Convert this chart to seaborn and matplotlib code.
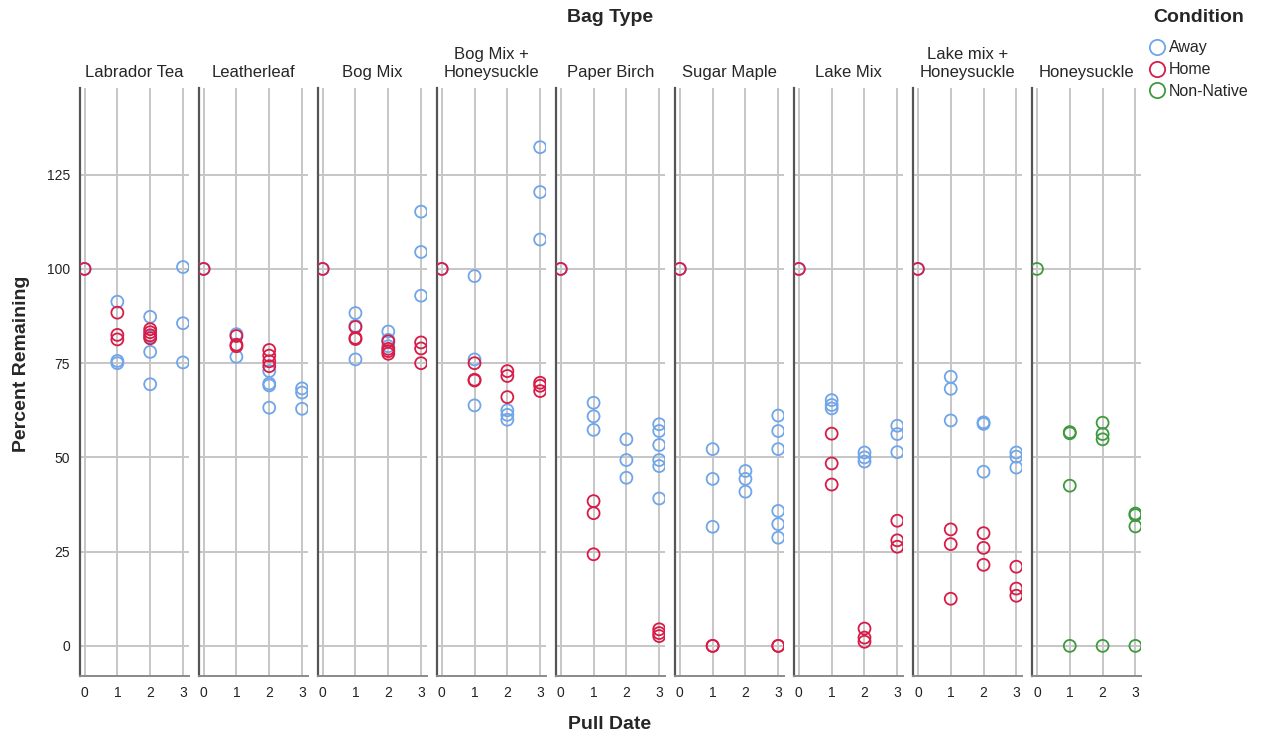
import matplotlib.pyplot as plt
import pandas as pd
import seaborn as sns
from matplotlib.lines import Line2D

BAGS = [
    "Labrador Tea", "Leatherleaf", "Bog Mix", "Bog Mix +\nHoneysuckle", "Paper Birch",
    "Sugar Maple", "Lake Mix", "Lake mix +\nHoneysuckle", "Honeysuckle",
]
CONDITIONS = ["Away", "Home", "Non-Native"]
PULL_DATES = [0, 1, 2, 3]
Y_TICKS = [0, 25, 50, 75, 100, 125]
COLORS = {"Away": "#6FA5EA", "Home": "#D81B47", "Non-Native": "#3D9A3D"}

# percent remaining per pull date (0..3)
labrador_tea_away = [[100], [91.3, 75.6, 75.0], [87.3, 82.0, 78.0, 69.4], [100.5, 85.6, 75.2]]
labrador_tea_home = [[100], [88.4, 82.5, 81.3], [84.0, 83.2, 82.4, 81.6], []]
leatherleaf_away = [[100], [82.7, 76.7], [72.9, 69.6, 69.1, 63.2], [68.3, 67.2, 62.9]]
leatherleaf_home = [[100], [82.2, 79.9, 79.5], [78.5, 77.0, 75.5, 74.2], []]
bog_mix_away = [[100], [88.3, 84.9, 76.0], [83.4, 81.2, 79.5], [115.2, 104.5, 92.9]]
bog_mix_home = [[100], [84.6, 81.7, 81.4], [80.8, 78.8, 78.2, 77.5], [80.5, 78.9, 75.0]]
bog_honey_away = [[100], [98.1, 76.0, 63.8], [62.5, 61.3, 60.0], [132.3, 120.4, 107.8]]
bog_honey_home = [[100], [75.0, 70.6, 70.4], [72.9, 71.6, 66.0], [69.8, 69.0, 67.6]]
paper_birch_away = [[100], [64.5, 60.9, 57.3], [54.8, 49.3, 44.6], [58.8, 57.0, 53.3, 49.3, 47.7, 39.1]]
paper_birch_home = [[100], [38.4, 35.2, 24.3], [], [4.4, 3.4, 2.6]]
sugar_maple_away = [[100], [52.2, 44.3, 31.6], [46.4, 44.3, 40.9], [61.1, 57.0, 52.2, 35.8, 32.3, 28.7]]
sugar_maple_home = [[100], [0, 0], [], [0, 0]]
lake_mix_away = [[100], [65.2, 63.9, 63.0], [51.3, 50.0, 48.9], [58.4, 56.2, 51.4]]
lake_mix_home = [[100], [56.3, 48.4, 42.8], [4.6, 2.2, 1.1], [33.2, 28.0, 26.3]]
lake_honey_away = [[100], [71.4, 68.2, 59.8], [59.3, 58.9, 46.2], [51.3, 50.2, 47.3]]
lake_honey_home = [[100], [30.9, 27.0, 12.5], [29.9, 26.0, 21.5], [21.0, 15.2, 13.3]]
honeysuckle_nonnative = [[100], [56.7, 56.4, 42.5, 0], [59.2, 56.2, 54.8, 0], [35.1, 34.7, 31.7, 0]]

SERIES = [
    ("Labrador Tea", "Away", labrador_tea_away), ("Labrador Tea", "Home", labrador_tea_home),
    ("Leatherleaf", "Away", leatherleaf_away), ("Leatherleaf", "Home", leatherleaf_home),
    ("Bog Mix", "Away", bog_mix_away), ("Bog Mix", "Home", bog_mix_home),
    ("Bog Mix +\nHoneysuckle", "Away", bog_honey_away), ("Bog Mix +\nHoneysuckle", "Home", bog_honey_home),
    ("Paper Birch", "Away", paper_birch_away), ("Paper Birch", "Home", paper_birch_home),
    ("Sugar Maple", "Away", sugar_maple_away), ("Sugar Maple", "Home", sugar_maple_home),
    ("Lake Mix", "Away", lake_mix_away), ("Lake Mix", "Home", lake_mix_home),
    ("Lake mix +\nHoneysuckle", "Away", lake_honey_away), ("Lake mix +\nHoneysuckle", "Home", lake_honey_home),
    ("Honeysuckle", "Non-Native", honeysuckle_nonnative),
]


def build_frame() -> pd.DataFrame:
    rows = []
    for bag, cond, by_date in SERIES:
        for pull, values in zip(PULL_DATES, by_date):
            for v in values:
                rows.append({"bag": bag, "cond": cond, "pull": pull, "pct": v})
    return pd.DataFrame(rows)


def hollow_points(x, y, color=None, label=None, **kwargs):
    plt.scatter(x, y, s=74, facecolors="none", edgecolors=color,
                linewidths=1.3, label=label, zorder=3)


def main() -> None:
    df = build_frame()
    sns.set_theme(style="white")
    plt.rcParams["font.family"] = ["Liberation Sans", "DejaVu Sans"]

    g = sns.FacetGrid(df, col="bag", col_order=BAGS, hue="cond", hue_order=CONDITIONS,
                      palette=COLORS, sharex=True, sharey=True, height=5, aspect=0.3)
    g.map(hollow_points, "pull", "pct")
    fig = g.figure
    fig.set_size_inches(12.63, 7.42)
    fig.subplots_adjust(left=0.0633, right=0.9034, top=0.8814, bottom=0.0889, wspace=0.096)

    g.set_titles("{col_name}", size=12, pad=8)
    g.set_axis_labels("", "")
    for ax in g.axes.flat:
        ax.set_xlim(-0.14, 3.17)
        ax.set_ylim(-8, 148)
        ax.set_xticks(PULL_DATES)
        ax.set_yticks(Y_TICKS)
        ax.grid(True, color="#c6c6c6", linewidth=1.4)
        ax.set_axisbelow(True)
        ax.tick_params(length=0, labelsize=10, pad=7, colors="#222222")
        ax.spines["left"].set_color("#555555")
        ax.spines["left"].set_linewidth(1.6)
        ax.spines["bottom"].set_color("#8a8a8a")
        ax.spines["bottom"].set_linewidth(1.4)

    fig.text(0.483, 0.977, "Bag Type", ha="center", va="center", fontsize=14, fontweight="bold")
    fig.text(0.483, 0.023, "Pull Date", ha="center", va="center", fontsize=14, fontweight="bold")
    fig.text(0.017, 0.51, "Percent Remaining", ha="center", va="center", rotation=90,
             fontsize=14, fontweight="bold")

    fig.text(1199 / 1263, 1 - 17 / 742, "Condition", ha="center", va="center",
             fontsize=14, fontweight="bold")
    handles = [Line2D([], [], linestyle="none", marker="o", markersize=11, markerfacecolor="none",
                      markeredgecolor=COLORS[c], markeredgewidth=1.3) for c in CONDITIONS]
    fig.legend(handles, CONDITIONS, loc="upper left",
               bbox_to_anchor=(1140 / 1263, 1 - 34 / 742), frameon=False, fontsize=11.5,
               handletextpad=0.1, labelspacing=0.42, borderaxespad=0, handlelength=1.3)

    fig.savefig("out.png", dpi=100)
    plt.close(fig)


if __name__ == "__main__":
    main()
